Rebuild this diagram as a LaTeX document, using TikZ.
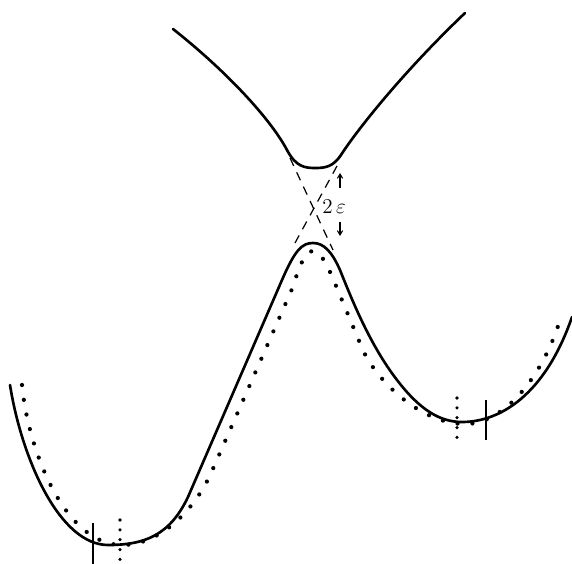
\documentclass[tikz,border=0pt]{standalone}
\usetikzlibrary{arrows.meta}
\begin{document}
\begin{tikzpicture}[x=0.02cm,y=-0.02cm,
  curve/.style={line width=1.5pt,line cap=round},
  dotcurve/.style={line width=2.4pt,line cap=round,dash pattern=on 0pt off 8.5pt},
  dotmark/.style={line width=2pt,line cap=round,dash pattern=on 0pt off 5.6pt},
  mark line/.style={line width=0.8pt},
  asym/.style={line width=0.7pt,dash pattern=on 5pt off 4pt},
  gaparrow/.style={line width=0.6pt,-{Straight Barb[length=2.5pt,width=3pt]}}]
\useasboundingbox (0,0) rectangle (572,564);
% upper branch
\draw[curve] (173,29) .. controls (225,70) and (270,118) .. (287,150)
  .. controls (296,167) and (305,168) .. (315,168)
  .. controls (325,168) and (333,167) .. (341,155)
  .. controls (355,133) and (400,75) .. (465,13);
% lower branch
\draw[curve] (10,385) .. controls (22,460) and (60,545) .. (108,545)
  .. controls (145,545) and (170,535) .. (188,497) -- (282,280)
  .. controls (295,250) and (302,243) .. (313,243)
  .. controls (324,243) and (332,252) .. (340,270)
  .. controls (352,300) and (370,345) .. (397,380)
  .. controls (420,410) and (440,422) .. (462,422)
  .. controls (500,422) and (545,395) .. (572,317);
% unperturbed curve
\draw[dotcurve] (22,385) .. controls (28,450) and (65,545) .. (122,545)
  .. controls (160,545) and (195,510) .. (212,471) -- (292,289)
  .. controls (300,265) and (305,251) .. (313,251)
  .. controls (321,251) and (328,267) .. (334,281) -- (362,348)
  .. controls (375,379) and (420,424) .. (465,424)
  .. controls (505,424) and (543,375) .. (560,320);
% asymptotes
\draw[asym] (290,158) -- (333,250);
\draw[asym] (337,166) -- (295,243);
% gap
\draw[gaparrow] (340,188) -- (340,173);
\draw[gaparrow] (340,222) -- (340,236);
\node[font=\large] (gap) at (334,207) {$2\,\varepsilon$};
% minima
\draw[mark line] (93,523) -- (93,564);
\draw[dotmark] (120,520) -- (120,564);
\draw[mark line] (486,400) -- (486,440);
\draw[dotmark] (457,398) -- (457,442);
\end{tikzpicture}
\end{document}
